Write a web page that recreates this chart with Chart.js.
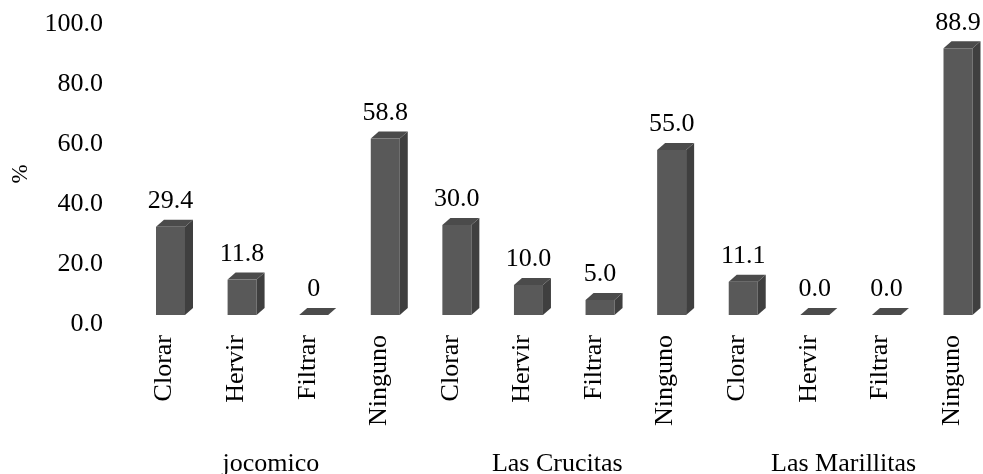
<!DOCTYPE html>
<html lang="es">
<head>
    <meta charset="UTF-8">
    <title>Tratamiento del agua</title>
    <script src="https://cdn.jsdelivr.net/npm/chart.js"></script>
    <style>
        html, body { margin: 0; padding: 0; background: #fff; }
        .chart-box { width: 983px; height: 474px; position: relative; }
    </style>
</head>
<body>
    <div class="chart-box">
        <canvas id="tratChart"></canvas>
    </div>

    <script>
        // datos
        const categories = ['Clorar', 'Hervir', 'Filtrar', 'Ninguno',
                            'Clorar', 'Hervir', 'Filtrar', 'Ninguno',
                            'Clorar', 'Hervir', 'Filtrar', 'Ninguno'];
        const values = [29.4, 11.8, 0, 58.8, 30.0, 10.0, 5.0, 55.0, 11.1, 0.0, 0.0, 88.9];
        const valueLabels = ['29.4', '11.8', '0', '58.8', '30.0', '10.0', '5.0', '55.0', '11.1', '0.0', '0.0', '88.9'];
        const groups = ['jocomico', 'Las Crucitas', 'Las Marillitas'];
        const groupSize = 4;

        const FONT = "'Liberation Serif', 'Times New Roman', serif";

        // barras en 3D + etiquetas de valor + nombres de grupo
        const bars3d = {
            id: 'bars3d',
            afterDatasetsDraw(chart) {
                const ctx = chart.ctx;
                const meta = chart.getDatasetMeta(0);
                const dx = 8, dy = 7, lift = 9;
                ctx.save();
                meta.data.forEach((el, i) => {
                    const p = el.getProps(['x', 'y', 'base', 'width'], true);
                    const l = p.x - p.width / 2, r = p.x + p.width / 2;
                    const t = p.y - lift, b = p.base - lift;
                    // cara frontal
                    ctx.fillStyle = '#595959';
                    ctx.fillRect(l, t, r - l, b - t);
                    // lateral
                    ctx.fillStyle = '#3f3f3f';
                    ctx.beginPath();
                    ctx.moveTo(r, b); ctx.lineTo(r, t);
                    ctx.lineTo(r + dx, t - dy); ctx.lineTo(r + dx, b - dy);
                    ctx.closePath(); ctx.fill();
                    // tapa
                    ctx.fillStyle = '#4b4b4b';
                    ctx.beginPath();
                    ctx.moveTo(l, t); ctx.lineTo(r, t);
                    ctx.lineTo(r + dx, t - dy); ctx.lineTo(l + dx, t - dy);
                    ctx.closePath(); ctx.fill();
                    // valor
                    ctx.fillStyle = '#000';
                    ctx.font = '26px ' + FONT;
                    ctx.textAlign = 'center';
                    ctx.textBaseline = 'middle';
                    ctx.fillText(valueLabels[i], p.x, t - 25.5);
                });
                const xs = chart.scales.x;
                ctx.textBaseline = 'alphabetic';
                groups.forEach((g, k) => {
                    const a = xs.getPixelForValue(k * groupSize);
                    const z = xs.getPixelForValue(k * groupSize + groupSize - 1);
                    ctx.fillText(g, (a + z) / 2 - 7, 471);
                });
                ctx.restore();
            }
        };

        Chart.defaults.color = '#000';
        Chart.defaults.font.family = FONT;

        new Chart(document.getElementById('tratChart'), {
            type: 'bar',
            data: {
                labels: categories,
                datasets: [{
                    data: values,
                    backgroundColor: 'rgba(0,0,0,0)',
                    borderWidth: 0,
                    barPercentage: 0.405,
                    categoryPercentage: 1
                }]
            },
            options: {
                responsive: true,
                maintainAspectRatio: false,
                animation: false,
                events: [],
                layout: { padding: { top: 24, right: 25, left: 3, bottom: 0 } },
                plugins: { legend: { display: false }, tooltip: { enabled: false } },
                scales: {
                    x: {
                        offset: false,
                        grid: { display: false, drawTicks: false },
                        border: { display: false },
                        ticks: {
                            autoSkip: false,
                            minRotation: 90,
                            maxRotation: 90,
                            padding: 11,
                            labelOffset: -6,
                            font: { size: 26 }
                        },
                        afterFit: s => {
                            s.height = 150;
                            s.paddingLeft = 0;
                            s.paddingRight = 0;
                        }
                    },
                    y: {
                        min: 0,
                        max: 100,
                        grid: { display: false, drawTicks: false },
                        border: { display: false },
                        ticks: {
                            stepSize: 20,
                            padding: 67.5,
                            font: { size: 26 },
                            callback: v => v.toFixed(1)
                        },
                        title: {
                            display: true,
                            text: '%',
                            font: { size: 23 },
                            padding: { top: 4, bottom: 0 }
                        },
                        afterFit: s => {
                            s.width = 167.5;
                            s.paddingTop = 16;
                            s.paddingBottom = 16;
                        }
                    }
                }
            },
            plugins: [bars3d]
        });
    </script>
</body>
</html>
